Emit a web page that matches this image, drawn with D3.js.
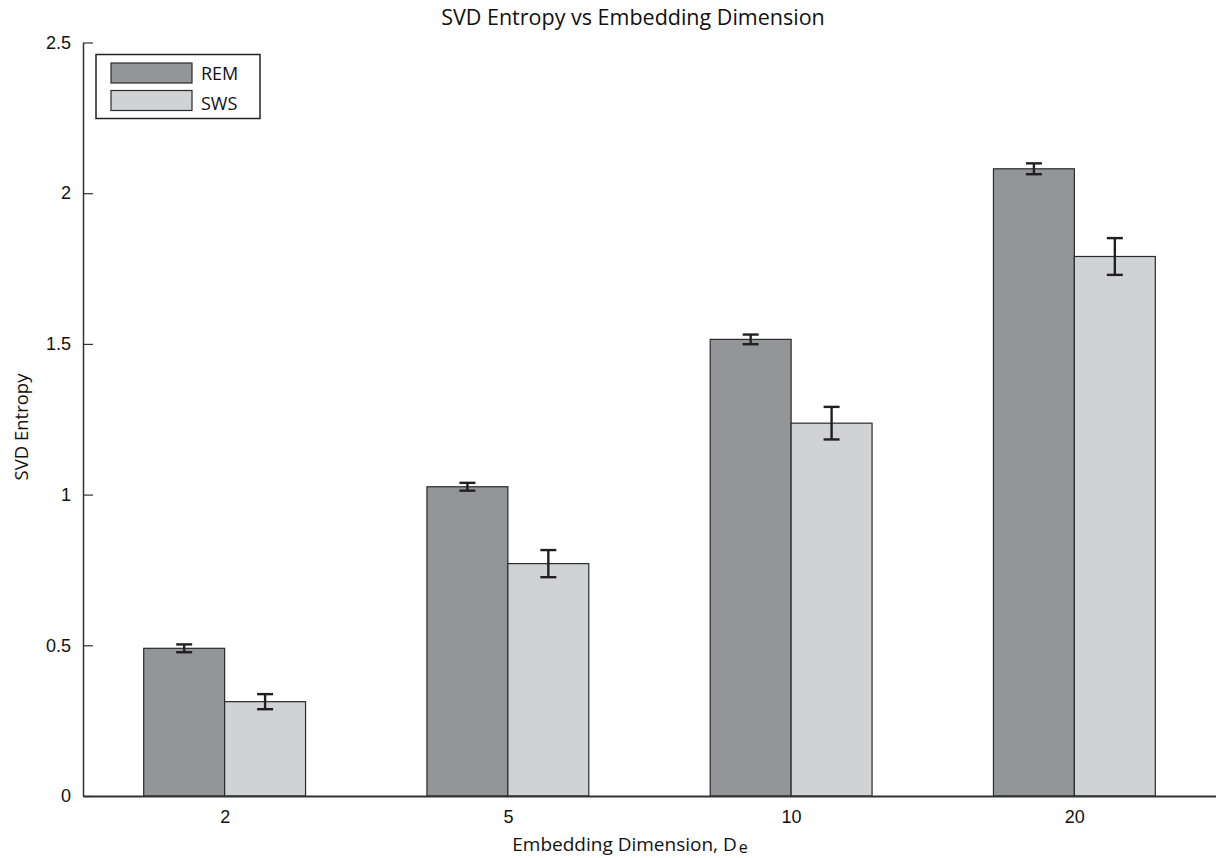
<!DOCTYPE html>
<html lang="en">
<head>
    <meta charset="UTF-8">
    <title>SVD Entropy vs Embedding Dimension</title>
    <script src="https://d3js.org/d3.v7.min.js"></script>
    <style>
        body {
            margin: 0;
            background-color: #ffffff;
            font-family: "Open Sans", "Noto Sans", sans-serif;
        }
        #chart svg {
            display: block;
        }
        .tick text {
            font-size: 18px;
            fill: #111;
        }
    </style>
</head>
<body>
    <div id="chart"></div>
    <script>
        // data
        const categories = ["2", "5", "10", "20"];
        const seriesNames = ["REM", "SWS"];
        const remValues = [0.490, 1.026, 1.515, 2.081];
        const remErrors = [0.013, 0.013, 0.016, 0.018];
        const swsValues = [0.313, 0.771, 1.237, 1.790];
        const swsErrors = [0.025, 0.045, 0.054, 0.061];
        const yTicks = [0, 0.5, 1, 1.5, 2, 2.5];
        const colors = ["#939598", "#d1d2d4"];

        const width = 1216, height = 858;
        const plotLeft = 83, plotRight = 1216, plotTop = 42.5, plotBottom = 796;

        const svg = d3.select("#chart")
            .append("svg")
            .attr("width", width)
            .attr("height", height);

        // categories sit at 1..4 like a matlab bar plot
        const x = d3.scaleLinear().domain([0.5, 4.5]).range([plotLeft, plotRight]);
        const y = d3.scaleLinear().domain([0, 2.5]).range([plotBottom, plotTop]);
        const barW = 0.2857;

        const series = [
            { name: seriesNames[0], values: remValues, errors: remErrors, color: colors[0], offset: -barW / 2 },
            { name: seriesNames[1], values: swsValues, errors: swsErrors, color: colors[1], offset: barW / 2 }
        ];

        const groups = svg.append("g")
            .selectAll("g")
            .data(series)
            .enter().append("g");

        groups.selectAll("rect")
            .data(s => s.values.map((v, i) => ({ v, i, s })))
            .enter().append("rect")
            .attr("x", d => x(d.i + 1 + d.s.offset - barW / 2))
            .attr("width", x(barW) - x(0))
            .attr("y", d => y(d.v))
            .attr("height", d => y(0) - y(d.v))
            .attr("fill", d => d.s.color)
            .attr("stroke", "#2a2a2a")
            .attr("stroke-width", 1.2);

        // error bars
        const errs = svg.append("g")
            .selectAll("g")
            .data(series.flatMap(s => s.values.map((v, i) => ({ v, e: s.errors[i], cx: x(i + 1 + s.offset) }))))
            .enter().append("g")
            .attr("stroke", "#231f20")
            .attr("stroke-width", 2.4);

        errs.append("line")
            .attr("x1", d => d.cx).attr("x2", d => d.cx)
            .attr("y1", d => y(d.v - d.e)).attr("y2", d => y(d.v + d.e));
        errs.append("line")
            .attr("x1", d => d.cx - 8).attr("x2", d => d.cx + 8)
            .attr("y1", d => y(d.v + d.e)).attr("y2", d => y(d.v + d.e));
        errs.append("line")
            .attr("x1", d => d.cx - 8).attr("x2", d => d.cx + 8)
            .attr("y1", d => y(d.v - d.e)).attr("y2", d => y(d.v - d.e));

        // axes
        const yAxis = svg.append("g")
            .attr("transform", `translate(${plotLeft},0)`)
            .call(d3.axisLeft(y).tickValues(yTicks).tickFormat(d3.format("")).tickSizeInner(-10).tickSizeOuter(0).tickPadding(12));
        yAxis.select(".domain").attr("stroke", "#333").attr("stroke-width", 1.5);
        yAxis.selectAll(".tick line").attr("stroke", "#333").attr("stroke-width", 1.2);

        const xAxis = svg.append("g")
            .attr("transform", `translate(0,${plotBottom})`)
            .call(d3.axisBottom(x).tickValues([1, 2, 3, 4]).tickFormat(d => categories[d - 1]).tickSize(0).tickPadding(14));
        xAxis.select(".domain").attr("stroke", "#333").attr("stroke-width", 2);

        // titles
        svg.append("text")
            .attr("x", 633).attr("y", 25)
            .attr("text-anchor", "middle")
            .attr("font-size", 21.5)
            .attr("fill", "#111")
            .text("SVD Entropy vs Embedding Dimension");

        const xl = svg.append("text")
            .attr("x", 630).attr("y", 851)
            .attr("text-anchor", "middle")
            .attr("font-size", 19)
            .attr("fill", "#111");
        xl.append("tspan").text("Embedding Dimension, D");
        xl.append("tspan").attr("dx", 2).attr("dy", 2).attr("font-size", 16).text("e");

        svg.append("text")
            .attr("transform", "translate(28,427) rotate(-90)")
            .attr("text-anchor", "middle")
            .attr("font-size", 18.5)
            .attr("fill", "#111")
            .text("SVD Entropy");

        // legend
        const legend = svg.append("g");
        legend.append("rect")
            .attr("x", 96).attr("y", 54.5)
            .attr("width", 164).attr("height", 64)
            .attr("fill", "#fff")
            .attr("stroke", "#222")
            .attr("stroke-width", 1.5);
        series.forEach((s, i) => {
            legend.append("rect")
                .attr("x", 111).attr("y", 63 + i * 27.5)
                .attr("width", 81).attr("height", 20)
                .attr("fill", s.color)
                .attr("stroke", "#2a2a2a")
                .attr("stroke-width", 1.2);
            legend.append("text")
                .attr("x", 201).attr("y", 80 + i * 30)
                .attr("font-size", 18)
                .attr("fill", "#111")
                .text(s.name);
        });
    </script>
</body>
</html>
